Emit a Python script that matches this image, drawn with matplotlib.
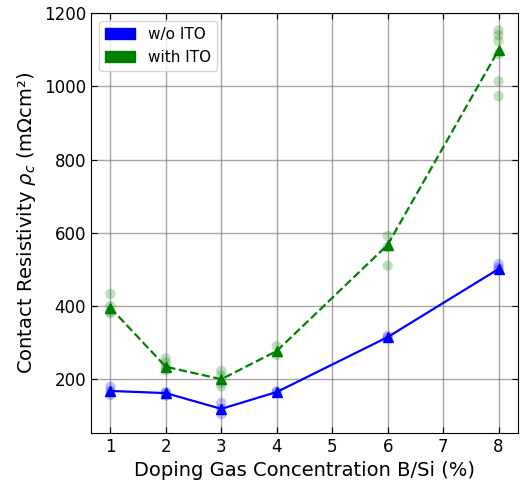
import matplotlib
matplotlib.use("Agg")
import matplotlib.pyplot as plt
import matplotlib.patches as mpatches

# doping gas concentration B/Si (%)
conc = [1, 2, 3, 4, 6, 8]

# line values (triangles)
wo_ito = [168, 162, 119, 165, 315, 501]
with_ito = [395, 234, 200, 277, 567, 1099]

# individual measurements
wo_ito_x = [1, 1, 1, 2, 2, 2, 3, 3, 3, 4, 4, 6, 6, 8, 8, 8]
wo_ito_y = [179, 168, 157, 165, 162, 155, 135, 119, 105, 167, 163, 318, 312, 515, 505, 498]
with_ito_x = [1, 1, 1, 1, 2, 2, 2, 2, 3, 3, 3, 3, 4, 4, 6, 6, 6, 8, 8, 8, 8, 8, 8]
with_ito_y = [433, 400, 385, 380, 257, 245, 232, 225, 223, 210, 190, 180, 290, 266,
              591, 561, 510, 1153, 1140, 1124, 1088, 1014, 973]

fig = plt.figure(figsize=(5.2, 4.86), dpi=100)
ax = fig.add_axes([0.175, 0.109, 0.821, 0.864])

ax.scatter(wo_ito_x, wo_ito_y, s=55, color="blue", alpha=0.25, edgecolors="none")
ax.scatter(with_ito_x, with_ito_y, s=55, color="green", alpha=0.25, edgecolors="none")
ax.plot(conc, wo_ito, "-^", color="blue", lw=1.6, ms=7)
ax.plot(conc, with_ito, "--^", color="green", lw=1.6, ms=7)

ax.set_xlim(0.65, 8.35)
ax.set_ylim(53, 1200)
ax.set_xticks(range(1, 9))
ax.set_yticks([200, 400, 600, 800, 1000, 1200])
ax.grid(True, color="gray", lw=1, alpha=0.7)
ax.set_axisbelow(True)
ax.tick_params(direction="in", top=True, right=True, labelsize=12, length=4)

ax.set_xlabel("Doping Gas Concentration B/Si (%)", fontsize=14)
ax.set_ylabel(r"Contact Resistivity $\rho_c$ (mΩcm²)", fontsize=14)

handles = [mpatches.Patch(color="blue", label="w/o ITO"),
           mpatches.Patch(color="green", label="with ITO")]
ax.legend(handles=handles, loc="upper left", fontsize=11)

fig.savefig("out.png", dpi=100)
